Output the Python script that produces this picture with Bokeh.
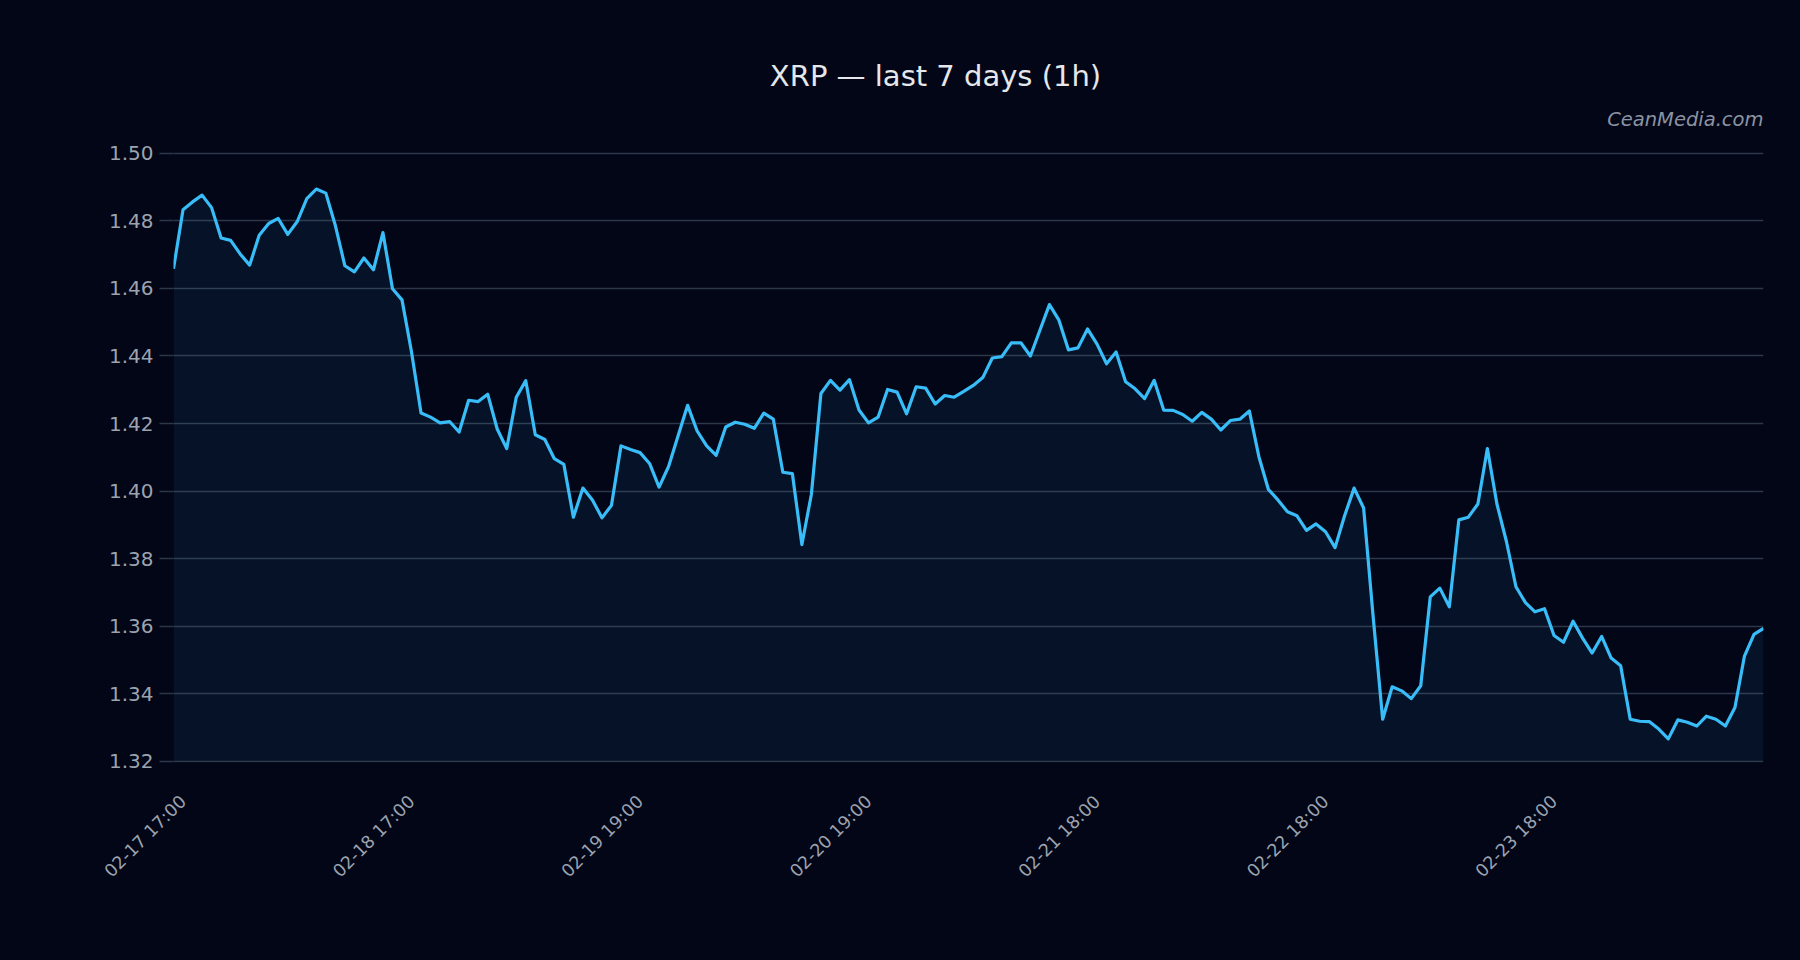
import math
from bokeh.plotting import figure
from bokeh.models import Range1d, FixedTicker, LinearAxis, Label
from bokeh.embed import file_html
from bokeh.resources import INLINE

# ---- data (hourly closes) ----
prices = [
    1.4658, 1.4833, 1.4856, 1.4876, 1.4839, 1.4749, 1.4742, 1.4702, 1.4669, 1.4757,
    1.4792, 1.4807, 1.4760, 1.4798, 1.4866, 1.4894, 1.4882, 1.4786, 1.4667, 1.4649,
    1.4690, 1.4655, 1.4765, 1.4599, 1.4566, 1.4412, 1.4231, 1.4219, 1.4202, 1.4206,
    1.4175, 1.4269, 1.4265, 1.4287, 1.4184, 1.4126, 1.4278, 1.4327, 1.4167, 1.4153,
    1.4096, 1.4079, 1.3923, 1.4009, 1.3974, 1.3921, 1.3958, 1.4134, 1.4123, 1.4114,
    1.4082, 1.4012, 1.4073, 1.4164, 1.4254, 1.4178, 1.4134, 1.4106, 1.4190, 1.4204,
    1.4198, 1.4186, 1.4231, 1.4213, 1.4056, 1.4052, 1.3842, 1.3991, 1.4289, 1.4328,
    1.4299, 1.4330, 1.4240, 1.4202, 1.4219, 1.4301, 1.4293, 1.4229, 1.4309, 1.4305,
    1.4258, 1.4283, 1.4278, 1.4295, 1.4313, 1.4336, 1.4394, 1.4398, 1.4439, 1.4439,
    1.4400, 1.4476, 1.4552, 1.4506, 1.4418, 1.4424, 1.4480, 1.4435, 1.4377, 1.4412,
    1.4324, 1.4303, 1.4274, 1.4328, 1.4240, 1.4239, 1.4227, 1.4207, 1.4233, 1.4213,
    1.4181, 1.4209, 1.4213, 1.4237, 1.4102, 1.4005, 1.3974, 1.3939, 1.3927, 1.3884,
    1.3903, 1.3880, 1.3833, 1.3927, 1.4009, 1.3950, 1.3629, 1.3325, 1.3421, 1.3409,
    1.3386, 1.3424, 1.3687, 1.3713, 1.3658, 1.3915, 1.3923, 1.3962, 1.4126, 1.3962,
    1.3851, 1.3717, 1.3670, 1.3643, 1.3652, 1.3573, 1.3553, 1.3615, 1.3565, 1.3521,
    1.3570, 1.3506, 1.3483, 1.3325, 1.3319, 1.3318, 1.3296, 1.3267, 1.3323, 1.3316,
    1.3305, 1.3334, 1.3325, 1.3305, 1.3360, 1.3512, 1.3576, 1.3594,
]
x_idx = list(range(len(prices)))

x_tick_idx = [0, 24, 48, 72, 96, 120, 144]
x_tick_labels = ["02-17 17:00", "02-18 17:00", "02-19 19:00", "02-20 19:00",
                 "02-21 18:00", "02-22 18:00", "02-23 18:00"]
y_ticks = [1.32, 1.34, 1.36, 1.38, 1.40, 1.42, 1.44, 1.46, 1.48, 1.50]
y_tick_labels = ["1.32", "1.34", "1.36", "1.38", "1.40", "1.42", "1.44", "1.46", "1.48", "1.50"]
y_min, y_max = 1.32, 1.50

title_text = "XRP \u2014 last 7 days (1h)"
watermark_text = "CeanMedia.com"

# ---- style / layout ----
BG = "#020617"
LINE = "#38bdf8"
GRID = "#2e3747"
TICK_TXT = "#9ca3af"
TITLE_TXT = "#e5e7eb"
FONT = "DejaVu Sans"
PAD = 0.0003          # tiny range padding so the 1.32 gridline is drawn
LABEL_SHIFT = 1.0     # rotated date labels sit slightly right of their tick
TOP_HEADROOM = 0.0452 # empty value band above 1.50 that holds title + watermark
TITLE_Y_OFF = -77     # px from the 1.50 line: title centre sits 77 px higher
TITLE_X_OFF = -33     # px from the plot centre
MARK_Y_OFF = -34      # px: watermark centre 34 px above the 1.50 line

n = len(prices)
p = figure(width=1800, height=960, output_backend="svg", toolbar_location=None,
           x_range=Range1d(0, n - 1),
           y_range=Range1d(y_min - PAD, y_max + TOP_HEADROOM),
           x_axis_location=None, title=None,
           min_border_left=173, min_border_right=37, min_border_top=0,
           min_border_bottom=198, background_fill_color=BG, border_fill_color=BG,
           outline_line_color=None)

# chart title and watermark (placed relative to the 1.50 line)
chart_title = Label(x=(n - 1) / 2, y=y_max, x_offset=TITLE_X_OFF, y_offset=-TITLE_Y_OFF,
                    text=title_text, text_align="center", text_baseline="middle",
                    text_font=FONT, text_font_size="29px", text_color=TITLE_TXT)
p.add_layout(chart_title)
watermark = Label(x=n - 1, y=y_max, y_offset=-MARK_Y_OFF, text=watermark_text,
                  text_align="right", text_baseline="middle", text_font=FONT,
                  text_font_style="italic", text_font_size="19.5px",
                  text_color="#8b93a3")
p.add_layout(watermark)

# area + line
p.varea(x=x_idx, y1=[y_min] * n, y2=prices, fill_color=LINE, fill_alpha=0.07)
p.line(x_idx, prices, line_color=LINE, line_width=3.2, line_join="round")

# x axis (date labels)
p.extra_x_ranges = {"labels": Range1d(-LABEL_SHIFT, n - 1 - LABEL_SHIFT)}
xaxis = LinearAxis(x_range_name="labels", ticker=FixedTicker(ticks=x_tick_idx))
xaxis.major_label_overrides = dict(zip(x_tick_idx, x_tick_labels))
xaxis.major_label_orientation = math.pi / 4
xaxis.axis_line_color = None
xaxis.major_tick_line_color = None
xaxis.minor_tick_line_color = None
xaxis.major_label_text_font = FONT
xaxis.major_label_text_font_size = "17.5px"
xaxis.major_label_text_color = TICK_TXT
xaxis.major_label_standoff = 30
p.add_layout(xaxis, "below")

# y axis
p.yaxis.ticker = FixedTicker(ticks=y_ticks)
p.yaxis.major_label_overrides = dict(zip(y_ticks, y_tick_labels))
p.yaxis.axis_line_color = None
p.yaxis.major_tick_line_color = GRID
p.yaxis.major_tick_line_width = 1.5
p.yaxis.major_tick_out = 14
p.yaxis.major_tick_in = 0
p.yaxis.minor_tick_line_color = None
p.yaxis.major_label_text_font = FONT
p.yaxis.major_label_text_font_size = "20px"
p.yaxis.major_label_text_color = TICK_TXT
p.yaxis.major_label_standoff = 6

for g in p.xgrid:
    g.visible = False
p.ygrid.grid_line_color = GRID
p.ygrid.grid_line_width = 1.5

html = file_html(p, INLINE)
html = html.replace("<head>", "<head><style>html,body{margin:0;padding:0;background:#020617;overflow:hidden;}</style>", 1)
open("out.html", "w").write(html)
